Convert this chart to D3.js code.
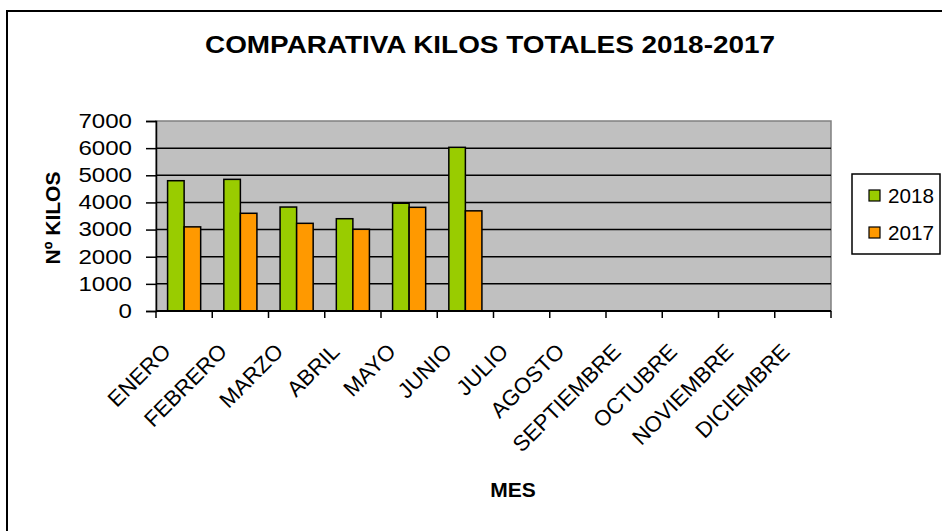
<!DOCTYPE html>
<html>
<head>
<meta charset="utf-8">
<script src="https://cdn.jsdelivr.net/npm/d3@7"></script>
<style>
  body { margin: 0; background: #fff; }
  text { font-family: "Liberation Sans", Arial, sans-serif; }
</style>
</head>
<body>
<div id="chart"></div>
<script>
// data
const months = ["ENERO", "FEBRERO", "MARZO", "ABRIL", "MAYO", "JUNIO", "JULIO",
    "AGOSTO", "SEPTIEMBRE", "OCTUBRE", "NOVIEMBRE", "DICIEMBRE"];
const years = ["2018", "2017"];
const kilos2018 = [4800, 4850, 3830, 3400, 3970, 6030];
const kilos2017 = [3100, 3600, 3230, 3010, 3820, 3690];
const yTicks = [0, 1000, 2000, 3000, 4000, 5000, 6000, 7000];

const width = 942, height = 531;
const margin = { top: 121, left: 156, right: 111, bottom: 220 };

const colors = { "2018": "#99CC00", "2017": "#FF9900" };

const svg = d3.select("#chart")
    .append("svg")
    .attr("width", width)
    .attr("height", height);

// chart border
svg.append("rect")
    .attr("x", 7).attr("y", 11)
    .attr("width", 950).attr("height", 540)
    .attr("fill", "#fff")
    .attr("stroke", "#000")
    .attr("stroke-width", 2);

const xScale = d3.scaleBand()
    .domain(months)
    .range([margin.left, width - margin.right]);

const yScale = d3.scaleLinear()
    .domain([0, 7000])
    .range([height - margin.bottom, margin.top]);

const xSub = d3.scaleBand()
    .domain(years)
    .range([0, xScale.bandwidth()])
    .paddingInner(0)
    .paddingOuter(0.7);

// plot background
svg.append("rect")
    .attr("x", margin.left)
    .attr("y", margin.top)
    .attr("width", xScale.range()[1] - margin.left)
    .attr("height", yScale(0) - margin.top)
    .attr("fill", "#C0C0C0")
    .attr("stroke", "#808080")
    .attr("stroke-width", 1.5);

// gridlines
svg.append("g")
    .selectAll("line")
    .data(yTicks.filter(d => d > 0 && d < 7000))
    .join("line")
    .attr("x1", margin.left)
    .attr("x2", xScale.range()[1])
    .attr("y1", d => yScale(d))
    .attr("y2", d => yScale(d))
    .attr("stroke", "#000")
    .attr("stroke-width", 1.5);

// bars
const table = [];
kilos2018.forEach((v, i) => table.push({ month: months[i], year: "2018", value: v }));
kilos2017.forEach((v, i) => table.push({ month: months[i], year: "2017", value: v }));

svg.append("g")
    .selectAll("rect")
    .data(table)
    .join("rect")
    .attr("x", d => xScale(d.month) + xSub(d.year))
    .attr("y", d => yScale(d.value))
    .attr("width", xSub.bandwidth())
    .attr("height", d => yScale(0) - yScale(d.value))
    .attr("fill", d => colors[d.year])
    .attr("stroke", "#000")
    .attr("stroke-width", 1.5);

// y axis
const yAxis = svg.append("g")
    .attr("transform", `translate(${margin.left},0)`)
    .call(d3.axisLeft(yScale).tickValues(yTicks).tickSize(10).tickPadding(14).tickFormat(d3.format("d")));
yAxis.select(".domain").attr("stroke", "#000").attr("stroke-width", 1.5);
yAxis.selectAll(".tick line").attr("stroke", "#000").attr("stroke-width", 1.5);
yAxis.selectAll(".tick text")
    .attr("font-size", 20)
    .attr("font-family", "Liberation Sans, Arial, sans-serif")
    .attr("fill", "#000")
    .attr("textLength", d => String(d).length * 13.4)
    .attr("lengthAdjust", "spacingAndGlyphs");

// x axis
const xAxis = svg.append("g")
    .attr("transform", `translate(0,${yScale(0)})`);
xAxis.append("line")
    .attr("x1", margin.left).attr("x2", xScale.range()[1])
    .attr("stroke", "#000").attr("stroke-width", 2);
xAxis.selectAll(".tk")
    .data(months.concat(["end"]))
    .join("line")
    .attr("class", "tk")
    .attr("x1", (d, i) => i < months.length ? xScale(d) : xScale.range()[1])
    .attr("x2", (d, i) => i < months.length ? xScale(d) : xScale.range()[1])
    .attr("y1", 0).attr("y2", 7)
    .attr("stroke", "#000").attr("stroke-width", 1.5);
xAxis.selectAll("text")
    .data(months)
    .join("text")
    .attr("transform", d => `translate(${xScale(d) + xScale.bandwidth() / 2 - 12},42) rotate(-45)`)
    .attr("text-anchor", "end")
    .attr("font-size", 22)
    .text(d => d);

// titles
svg.append("text")
    .attr("x", 490).attr("y", 53)
    .attr("text-anchor", "middle")
    .attr("font-size", 24)
    .attr("font-weight", "bold")
    .attr("textLength", 570)
    .attr("lengthAdjust", "spacingAndGlyphs")
    .text("COMPARATIVA KILOS TOTALES 2018-2017");

svg.append("text")
    .attr("x", 513).attr("y", 497)
    .attr("text-anchor", "middle")
    .attr("font-size", 21)
    .attr("font-weight", "bold")
    .text("MES");

svg.append("text")
    .attr("transform", "translate(60,218) rotate(-90)")
    .attr("text-anchor", "middle")
    .attr("font-size", 21)
    .attr("font-weight", "bold")
    .text("Nº KILOS");

// legend
const lg = svg.append("g");
lg.append("rect")
    .attr("x", 852).attr("y", 174)
    .attr("width", 88).attr("height", 80)
    .attr("fill", "#fff")
    .attr("stroke", "#000")
    .attr("stroke-width", 1.5);
lg.selectAll(".sw")
    .data(years)
    .join("rect")
    .attr("class", "sw")
    .attr("x", 869)
    .attr("y", (d, i) => 190 + i * 37)
    .attr("width", 11).attr("height", 11)
    .attr("fill", d => colors[d])
    .attr("stroke", "#000")
    .attr("stroke-width", 1.2);
lg.selectAll(".lt")
    .data(years)
    .join("text")
    .attr("class", "lt")
    .attr("x", 888)
    .attr("y", (d, i) => 203 + i * 37)
    .attr("font-size", 21)
    .attr("textLength", 46)
    .attr("lengthAdjust", "spacingAndGlyphs")
    .text(d => d);
</script>
</body>
</html>
